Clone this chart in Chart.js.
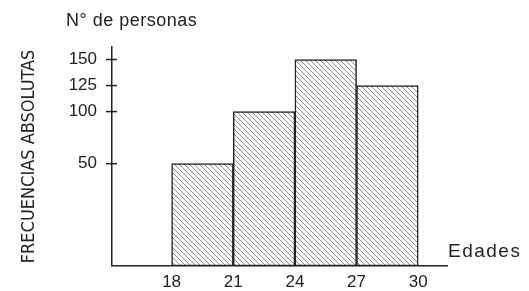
<!DOCTYPE html>
<html>
<head>
<meta charset="utf-8">
<script src="https://cdn.jsdelivr.net/npm/chart.js@4/dist/chart.umd.min.js"></script>
<style>
    html, body { margin: 0; padding: 0; background: #fff; }
    #wrap { width: 529px; height: 291px; }
</style>
</head>
<body>
<div id="wrap"><canvas id="hist"></canvas></div>
<script>
// clases de edad (centro de cada intervalo) y frecuencias
const classMids = [19.5, 22.5, 25.5, 28.5];
const frequencies = [50, 100, 150, 125];
const xTicks = [18, 21, 24, 27, 30];
const yTicks = [50, 100, 125, 150];

const INK = '#222';
const FONT = "'Liberation Sans', Arial, sans-serif";

function hatchPattern() {
    const s = 5;
    const c = document.createElement('canvas');
    c.width = s; c.height = s;
    const g = c.getContext('2d');
    g.fillStyle = '#fff';
    g.fillRect(0, 0, s, s);
    g.strokeStyle = '#8a8a8a';
    g.lineWidth = 1;
    g.beginPath();
    g.moveTo(0, 0); g.lineTo(s, s);
    g.moveTo(-1, s - 1); g.lineTo(1, s + 1);
    g.moveTo(s - 1, -1); g.lineTo(s + 1, 1);
    g.stroke();
    return g.createPattern(c, 'repeat');
}

// textos sueltos y marcas cruzadas del eje Y
const decorations = {
    id: 'decorations',
    afterDraw(chart) {
        const { ctx, chartArea, scales } = chart;
        const y = scales.y;
        ctx.save();
        ctx.strokeStyle = INK;
        ctx.lineWidth = 1.5;
        y.ticks.forEach(t => {
            const py = y.getPixelForValue(t.value);
            ctx.beginPath();
            ctx.moveTo(chartArea.left - 6, py);
            ctx.lineTo(chartArea.left + 5, py);
            ctx.stroke();
        });
        ctx.fillStyle = INK;
        ctx.textBaseline = 'middle';
        ctx.textAlign = 'left';
        ctx.font = '18px ' + FONT;
        ctx.letterSpacing = '0.5px';
        ctx.fillText('N\u00b0 de personas', chartArea.left - 46, 21);
        ctx.font = '19px ' + FONT;
        ctx.letterSpacing = '1.5px';
        ctx.fillText('Edades', chartArea.right + 1, 252);
        ctx.restore();
    }
};

new Chart(document.getElementById('hist'), {
    type: 'bar',
    data: {
        datasets: [{
            data: classMids.map((x, i) => ({ x: x, y: frequencies[i] })),
            backgroundColor: hatchPattern(),
            borderColor: INK,
            borderWidth: 1.5,
            borderSkipped: false,
            barPercentage: 1,
            categoryPercentage: 1,
            base: -48
        }]
    },
    options: {
        responsive: true,
        maintainAspectRatio: false,
        animation: false,
        events: [],
        layout: { padding: { left: 0, right: 82, top: 47, bottom: 0 } },
        plugins: { legend: { display: false }, tooltip: { enabled: false } },
        scales: {
            x: {
                type: 'linear',
                offset: false,
                min: 15.1,
                max: 31.4,
                afterBuildTicks: s => { s.ticks = xTicks.map(v => ({ value: v })); },
                afterFit: s => { s.height = 23; },
                grid: { display: false, drawTicks: false },
                border: { display: true, color: INK, width: 1.5 },
                ticks: { color: INK, padding: 6, font: { family: FONT, size: 17 } }
            },
            y: {
                min: -48,
                max: 162,
                afterBuildTicks: s => { s.ticks = yTicks.map(v => ({ value: v })); },
                afterFit: s => { s.width = 112; },
                grid: { display: false, drawTicks: false },
                border: { display: true, color: INK, width: 1.5 },
                ticks: { color: INK, padding: 15, font: { family: FONT, size: 17 } },
                title: {
                    display: true,
                    text: 'FRECUENCIAS ABSOLUTAS',
                    color: INK,
                    padding: { top: 19, bottom: 0 },
                    font: { family: "'Liberation Sans Narrow', 'DejaVu Sans Condensed', " + FONT, size: 18 }
                }
            }
        }
    },
    plugins: [decorations]
});
</script>
</body>
</html>
